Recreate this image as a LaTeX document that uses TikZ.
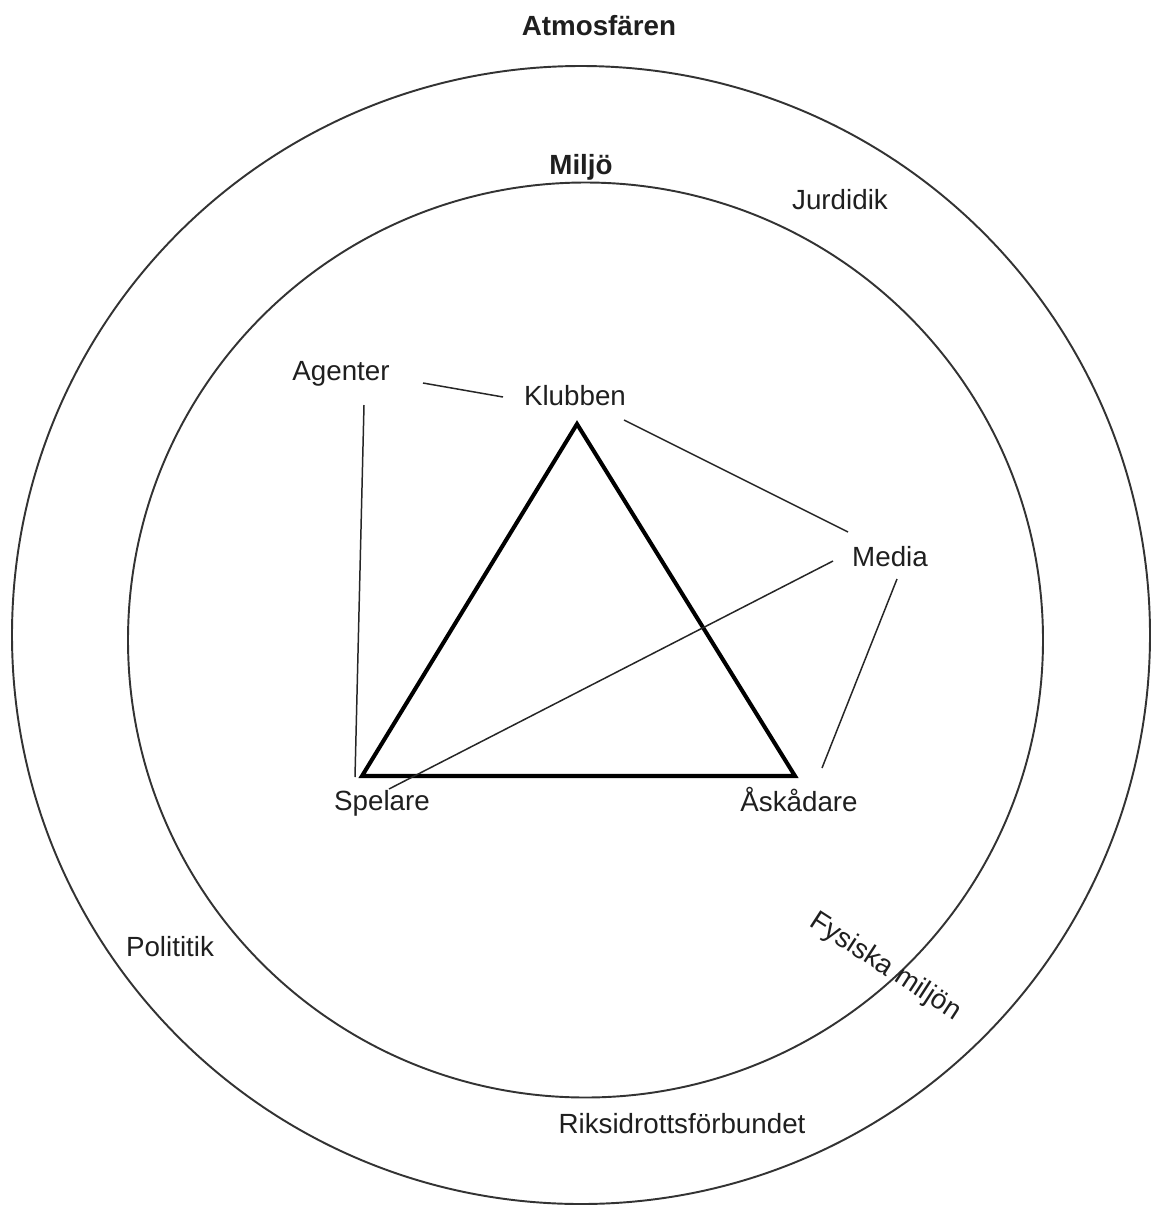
\documentclass[tikz,border=0pt]{standalone}
\usepackage{fontspec}
\setmainfont{Liberation Sans}
\begin{document}
\begin{tikzpicture}[x=0.02cm,y=-0.02cm,
  lbl/.style={inner sep=0pt,anchor=base,font=\fontsize{15.8pt}{19pt}\selectfont,text=black!88},
  bold/.style={lbl,font=\fontsize{15.8pt}{19pt}\selectfont\bfseries},
  ring/.style={draw=black!80,line width=1.1pt},
  tri/.style={draw=black,line width=2.3pt,line join=miter},
  link/.style={draw=black!85,line width=0.85pt}]
\useasboundingbox (0,0) rectangle (1150,1207);
% rings
\node[ring,circle,minimum size=1138*0.02cm,inner sep=0pt] (outer) at (581,635) {};
\node[ring,circle,minimum size=915*0.02cm,inner sep=0pt] (inner) at (585.5,640) {};
% labels
\node[bold] (atm) at (599,35) {Atmosfären};
\node[bold] (miljo) at (581,174) {Miljö};
\node[lbl] (jur) at (840,209) {Jurdidik};
\node[lbl] (agenter) at (341,380) {Agenter};
\node[lbl] (klubben) at (575,405) {Klubben};
\node[lbl] (media) at (890,566) {Media};
\node[lbl] (spelare) at (382,810) {Spelare};
\node[lbl] (askadare) at (799,811) {Åskådare};
\node[lbl] (pol) at (170,956) {Polititik};
\node[lbl] (rf) at (682,1133) {Riksidrottsförbundet};
\node[lbl,anchor=center,rotate=-33] (fys) at (885,967) {Fysiska miljön};
% triangle
\coordinate (tK) at (577,424);
\coordinate (tS) at (362,776);
\coordinate (tA) at (795,776);
\draw[tri] (tK) -- (tS) -- (tA) -- cycle;
% connector ends
\coordinate (ag1) at (423,383);
\coordinate (kl1) at (503,397);
\coordinate (ag2) at (364,405);
\coordinate (sp1) at (355,777);
\coordinate (kl2) at (624,420);
\coordinate (me1) at (848,532);
\coordinate (me2) at (833,561);
\coordinate (sp2) at (389,789);
\coordinate (me3) at (897,579);
\coordinate (as1) at (822,768);
\draw[link] (ag1) -- (kl1);
\draw[link] (ag2) -- (sp1);
\draw[link] (kl2) -- (me1);
\draw[link] (me2) -- (sp2);
\draw[link] (me3) -- (as1);
\end{tikzpicture}
\end{document}
